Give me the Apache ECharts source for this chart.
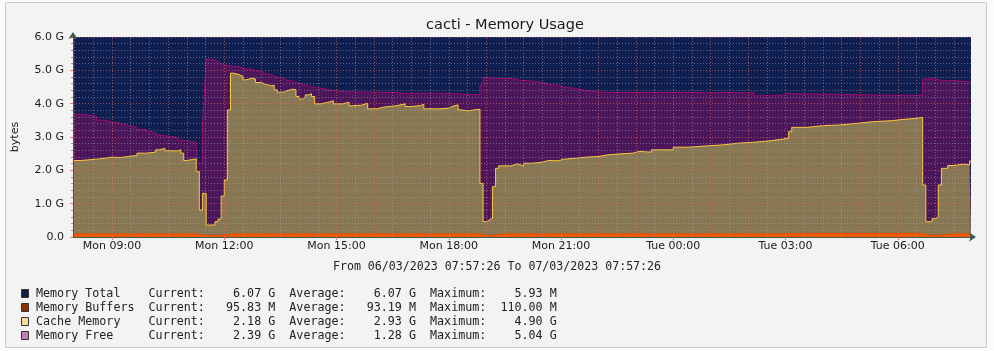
<!DOCTYPE html>
<html><head><meta charset="utf-8">
<script src="https://cdn.jsdelivr.net/npm/echarts@6/dist/echarts.min.js"></script>
<style>html,body{margin:0;padding:0;background:#fcfafa;}#c{width:994px;height:351px;}</style>
</head><body><div id="c"></div>
<script>
// time in minutes since Mon 00:00 (06/03/2023)
const tStart = 477.43, tEnd = 1917.43;
const times = [
477.43, 490, 515, 530, 540, 555, 565, 580, 595, 610,
615, 625, 645, 650, 655, 660, 675, 678, 680, 685,
688, 691, 700, 705, 710, 715, 720, 725, 730, 735,
745, 750, 755, 765, 770, 780, 785, 795, 800, 805,
815, 820, 830, 835, 840, 845, 850, 855, 860, 865,
875, 885, 895, 910, 920, 925, 940, 950, 965, 975,
995, 1010, 1020, 1035, 1040, 1065, 1080, 1085, 1095, 1100,
1110, 1130, 1135, 1140, 1145, 1150, 1155, 1160, 1180, 1190,
1200, 1215, 1230, 1240, 1255, 1265, 1285, 1300, 1320, 1335,
1355, 1375, 1385, 1405, 1440, 1465, 1495, 1520, 1545, 1570,
1595, 1615, 1625, 1630, 1655, 1680, 1705, 1735, 1760, 1790,
1810, 1830, 1840, 1845, 1855, 1860, 1865, 1870, 1880, 1890,
1905, 1915, 1917.43];
// values in G bytes
const memoryBuffers = [
.095,.095,.095,.095,.095,.095,.095,.095,.095,.095,
.095,.095,.095,.095,.095,.095,.08,.07,.06,.05,
.05,.05,.05,.05,.05,.06,.07,.09,.095,.095,
.095,.095,.095,.095,.095,.095,.095,.095,.095,.095,
.095,.095,.095,.095,.095,.095,.095,.095,.095,.095,
.095,.095,.095,.095,.095,.095,.095,.095,.095,.095,
.095,.095,.095,.095,.095,.095,.095,.095,.095,.095,
.095,.07,.05,.05,.05,.06,.08,.095,.095,.095,
.095,.095,.095,.095,.095,.095,.095,.095,.095,.095,
.095,.095,.095,.095,.095,.095,.095,.095,.095,.095,
.095,.095,.10,.11,.11,.11,.11,.11,.11,.11,
.11,.11,.07,.05,.05,.05,.06,.08,.095,.095,
.095,.096,.096];
const cacheMemory = [
2.20,2.24,2.27,2.30,2.29,2.32,2.35,2.42,2.45,2.52,
2.56,2.49,2.52,2.42,2.20,2.25,1.88,1.89,0.75,1.26,
1.26,0.31,0.31,0.41,0.49,1.17,1.64,3.72,4.82,4.77,
4.72,4.62,4.67,4.65,4.54,4.49,4.44,4.46,4.32,4.25,
4.29,4.34,4.32,4.12,4.04,4.10,4.17,4.20,4.12,3.90,
3.94,3.99,3.90,3.95,3.84,3.86,3.92,3.75,3.80,3.84,
3.90,3.82,3.85,3.89,3.75,3.77,3.82,3.87,3.72,3.69,
3.74,1.54,0.41,0.46,0.51,1.45,1.98,2.04,2.10,2.04,
2.12,2.15,2.20,2.19,2.24,2.27,2.30,2.32,2.37,2.40,
2.42,2.47,2.45,2.52,2.60,2.64,2.67,2.72,2.75,2.79,
2.84,2.87,3.06,3.18,3.23,3.25,3.30,3.35,3.38,3.42,
3.45,3.48,1.49,0.41,0.50,0.56,1.50,1.98,2.05,2.09,
2.07,2.18,2.18];
const memoryFree = [
1.39,1.29,1.14,1.05,1.02,0.93,0.85,0.71,0.60,0.45,
0.38,0.40,0.30,0.38,0.58,0.50,0.80,0.24,1.39,1.99,
2.99,4.97,4.94,4.79,4.66,3.94,3.44,1.32,0.20,0.24,
0.25,0.33,0.27,0.24,0.32,0.32,0.34,0.27,0.38,0.42,
0.32,0.24,0.22,0.40,0.45,0.37,0.27,0.22,0.27,0.47,
0.39,0.31,0.37,0.31,0.42,0.39,0.33,0.50,0.44,0.40,
0.31,0.39,0.37,0.33,0.47,0.44,0.38,0.33,0.47,0.49,
0.43,2.95,4.32,4.27,4.21,3.25,2.70,2.62,2.52,2.56,
2.46,2.39,2.29,2.27,2.16,2.09,2.00,1.94,1.87,1.84,
1.82,1.77,1.79,1.72,1.64,1.59,1.57,1.51,1.48,1.35,
1.32,1.35,1.14,1.00,0.95,0.92,0.86,0.80,0.76,0.72,
0.69,0.66,3.17,4.30,4.19,4.11,3.14,2.63,2.54,2.49,
2.49,2.39,2.39];
const memoryTotal = [6.07, 6.07];

const xTickValues = [540, 720, 900, 1080, 1260, 1440, 1620, 1800];
const xTickLabels = ['Mon 09:00','Mon 12:00','Mon 15:00','Mon 18:00','Mon 21:00','Tue 00:00','Tue 03:00','Tue 06:00'];

const legendNames = ['Memory Total','Memory Buffers','Cache Memory','Memory Free'];
const legendCurrent = ['6.07 G','95.83 M','2.18 G','2.39 G'];
const legendAverage = ['6.07 G','93.19 M','2.93 G','1.28 G'];
const legendMaximum = ['5.93 M','110.00 M','4.90 G','5.04 G'];
const legendSwatch = ['#0f2048','#8e3300','#f9dc98','#c080b0'];

const NAVY = '#0f1f52', PURPLE = '#4b165a', TAN = '#877853', ORANGE = '#ef5a0a';
const MINOR = 'rgba(165,165,175,0.55)', MAJOR = 'rgba(240,100,100,0.65)';
const AXIS = '#3a5a50';
const MONO = '"DejaVu Sans Mono", monospace';
const SANS = '"DejaVu Sans", sans-serif';

// stacked tops (buffers, then cache, then free)
const bufTop = memoryBuffers.slice();
const cacheTop = memoryBuffers.map((b, i) => b + cacheMemory[i]);
const freeTop = cacheTop.map((c, i) => c + memoryFree[i]);
const zip = vals => times.map((t, i) => [t, vals[i]]);

// vertical grid lines every 30 min, major every hour
const vLines = [];
for (let m = 480; m < tEnd; m += 30) {
  vLines.push({xAxis: m, lineStyle: {color: m % 60 === 0 ? MAJOR : MINOR, type: [1, 2], width: 1}});
}

const graphic = [
  {type: 'rect', shape: {x: 5.5, y: 2.5, width: 981, height: 345}, style: {fill: '#f3f3f3', stroke: '#c9c9c9', lineWidth: 1}, z: -10, silent: true},
  {type: 'text', x: 497, y: 267, style: {text: 'From 06/03/2023 07:57:26 To 07/03/2023 07:57:26', font: '11.6px ' + MONO, fill: '#222', textAlign: 'center', textVerticalAlign: 'middle'}}
];
const rowY = [294, 308, 322, 336];
legendNames.forEach((n, i) => {
  const y = rowY[i];
  const line = n.padEnd(16) + 'Current:' + legendCurrent[i].padStart(10) +
    '  Average:' + legendAverage[i].padStart(10) + '  Maximum:' + legendMaximum[i].padStart(10);
  graphic.push({type: 'rect', shape: {x: 21.5, y: y - 4.5, width: 7, height: 8}, style: {fill: legendSwatch[i], stroke: '#333', lineWidth: 1}});
  graphic.push({type: 'text', x: 36, y: y, style: {text: line, font: '11.7px ' + MONO, fill: '#222', textVerticalAlign: 'middle'}});
});

const chart = echarts.init(document.getElementById('c'), null, {renderer: 'canvas'});
const lineBase = {type: 'line', step: 'end', showSymbol: false, silent: true};
chart.setOption({
  animation: false,
  backgroundColor: '#fcfafa',
  title: {text: 'cacti - Memory Usage', left: 500, top: 13, textAlign: 'center',
    textStyle: {fontFamily: SANS, fontSize: 14.5, fontWeight: 'normal', color: '#1a1a1a'}},
  grid: {left: 73, right: 23, top: 37, bottom: 114, containLabel: false},
  xAxis: {
    type: 'value', min: tStart, max: tEnd, z: 6,
    axisLine: {show: true, lineStyle: {color: AXIS, width: 1}, symbol: ['none', 'arrow'], symbolSize: [7, 7], symbolOffset: [0, 5]},
    axisTick: {show: true, customValues: xTickValues, length: 3, lineStyle: {color: 'rgba(230,90,90,0.8)'}},
    axisLabel: {customValues: xTickValues, formatter: v => xTickLabels[xTickValues.indexOf(v)] || '', margin: 4,
      fontFamily: SANS, fontSize: 11, color: '#1a1a1a'},
    splitLine: {show: false}
  },
  yAxis: {
    type: 'value', min: 0, max: 6, interval: 1, z: 6,
    name: 'bytes', nameLocation: 'middle', nameGap: 52, nameRotate: 90,
    nameTextStyle: {fontFamily: SANS, fontSize: 11, color: '#1a1a1a'},
    axisLine: {show: true, lineStyle: {color: AXIS, width: 1}, symbol: ['none', 'arrow'], symbolSize: [7, 7], symbolOffset: [0, 5]},
    axisTick: {show: true, length: 3, lineStyle: {color: 'rgba(230,90,90,0.8)'}},
    minorTick: {show: true, splitNumber: 5, length: 2, lineStyle: {color: '#999'}},
    axisLabel: {formatter: v => v === 0 ? '0.0' : v.toFixed(1) + ' G', margin: 9,
      fontFamily: SANS, fontSize: 11, color: '#1a1a1a'},
    splitLine: {show: true, lineStyle: {color: MAJOR, type: [1, 2], width: 1}},
    minorSplitLine: {show: true, lineStyle: {color: MINOR, type: [1, 2], width: 1}}
  },
  series: [
    Object.assign({}, lineBase, {name: 'Memory Total', step: false, data: [[tStart, memoryTotal[0]], [tEnd, memoryTotal[1]]],
      lineStyle: {width: 0}, areaStyle: {color: NAVY, opacity: 1}, z: 1,
      markLine: {silent: true, symbol: 'none', label: {show: false}, data: vLines, z: 5, animation: false}}),
    Object.assign({}, lineBase, {name: 'Memory Free', data: zip(freeTop),
      lineStyle: {width: 1, color: '#a2086a'}, areaStyle: {color: PURPLE, opacity: 1}, z: 2}),
    Object.assign({}, lineBase, {name: 'Cache Memory', data: zip(cacheTop),
      lineStyle: {width: 1, color: '#ffc83a'}, areaStyle: {color: TAN, opacity: 1}, z: 3}),
    Object.assign({}, lineBase, {name: 'Memory Buffers', data: zip(bufTop),
      lineStyle: {width: 1, color: '#e24d00'}, areaStyle: {color: ORANGE, opacity: 1}, z: 4})
  ],
  graphic: graphic
});
</script>
</body></html>
